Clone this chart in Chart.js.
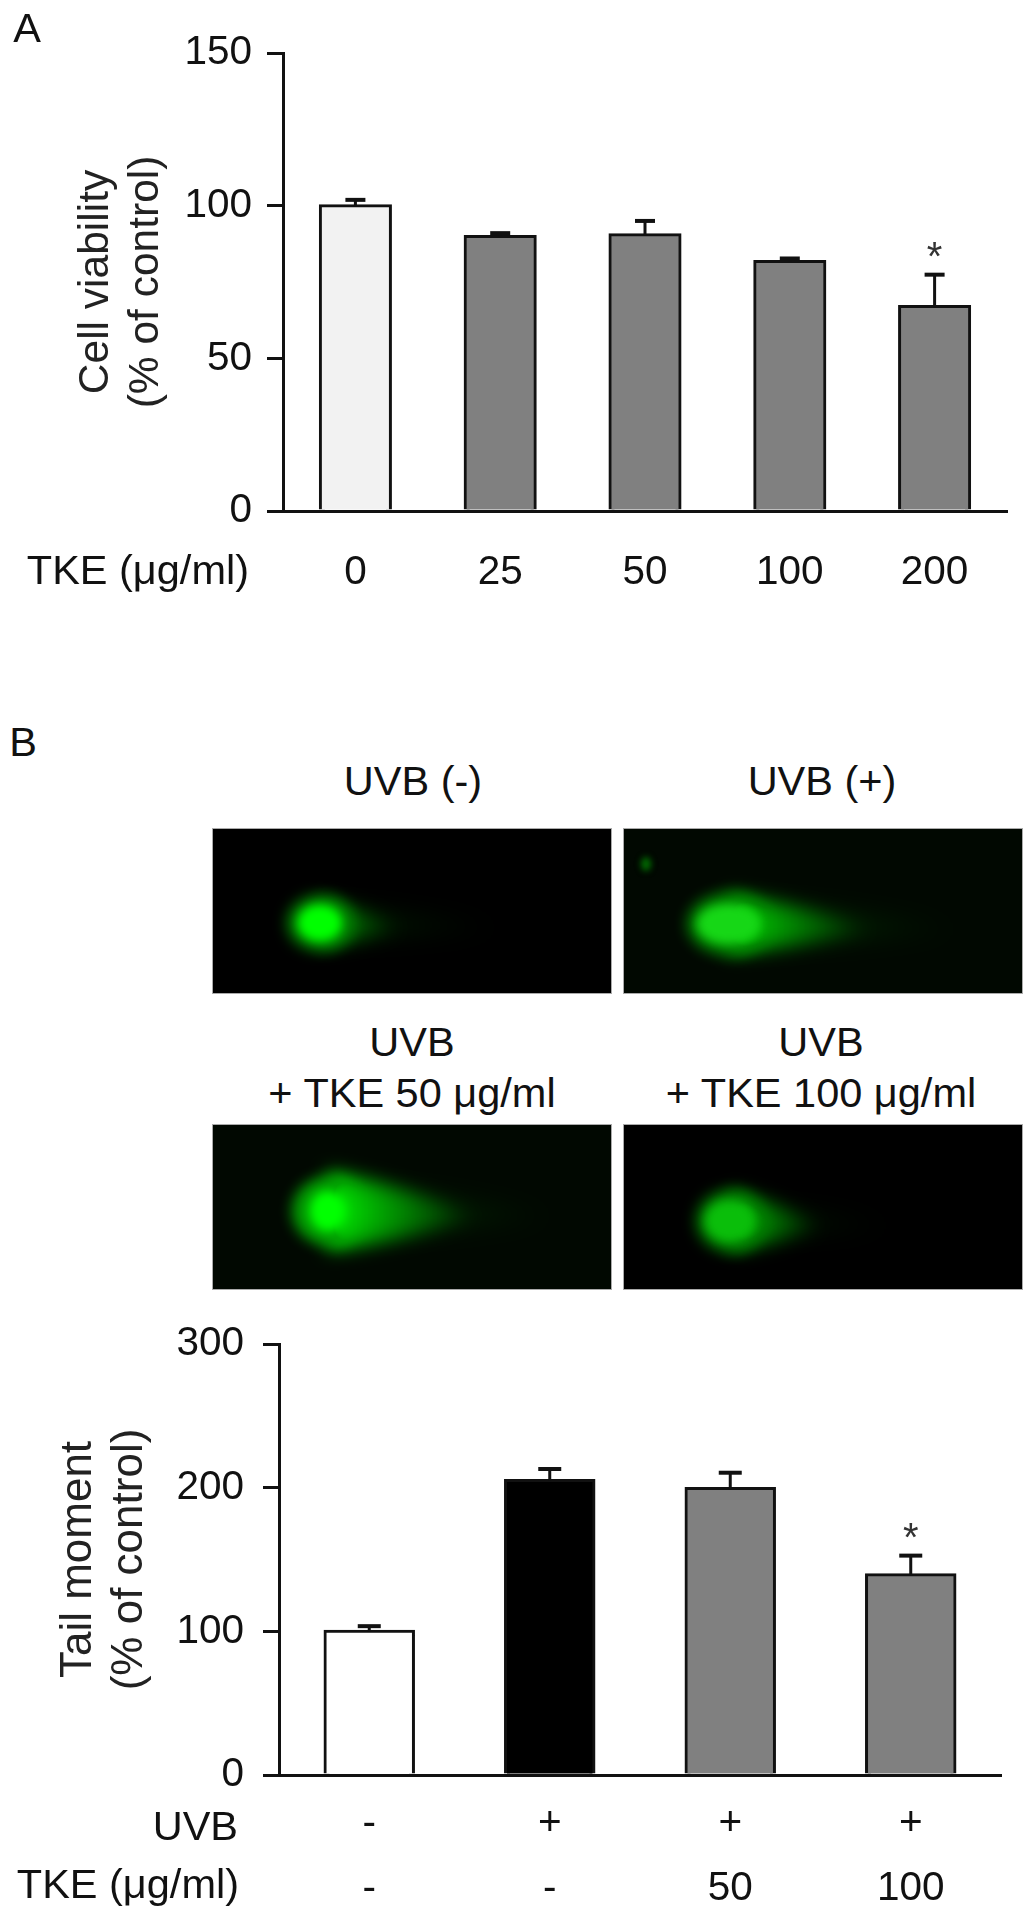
<!DOCTYPE html>
<html>
<head>
<meta charset="utf-8">
<title>TKE figure</title>
<script src="https://cdn.jsdelivr.net/npm/chart.js@4"></script>
<style>
    html, body { margin: 0; padding: 0; background: #fff; }
    #page { position: relative; width: 1036px; height: 1917px; overflow: hidden; font-family: "Liberation Sans", Arial, sans-serif; color: #111; }
    #page canvas { position: absolute; }
    .lbl { position: absolute; font-size: 41.5px; line-height: 1; white-space: nowrap; transform: translate(-50%, -50%); }
    .lbl.r { transform: translate(-100%, -50%); }
    .shot { outline: 1px solid #aaa; outline-offset: -1px; }
</style>
</head>
<body>
<div id="page">
    <canvas id="viability" width="1036" height="640" style="left:0;top:0"></canvas>
    <canvas id="tail" width="1036" height="617" style="left:0;top:1300px"></canvas>

    <div class="lbl" style="left:27px;top:28px">A</div>
    <div class="lbl" style="left:23px;top:742px">B</div>

    <div class="lbl r" style="left:249px;top:570px">TKE (μg/ml)</div>
    <div class="lbl r" style="left:238px;top:1826px">UVB</div>
    <div class="lbl r" style="left:239px;top:1884px">TKE (μg/ml)</div>

    <div class="lbl" style="left:413px;top:781px">UVB (-)</div>
    <div class="lbl" style="left:822px;top:781px">UVB (+)</div>
    <div class="lbl" style="left:412px;top:1042px">UVB</div>
    <div class="lbl" style="left:412px;top:1093px">+ TKE 50 μg/ml</div>
    <div class="lbl" style="left:821px;top:1042px">UVB</div>
    <div class="lbl" style="left:821px;top:1093px">+ TKE 100 μg/ml</div>

    <canvas class="shot" id="shot1" width="400" height="166" style="left:212px;top:828px"></canvas>
    <canvas class="shot" id="shot2" width="400" height="166" style="left:623px;top:828px"></canvas>
    <canvas class="shot" id="shot3" width="400" height="166" style="left:212px;top:1124px"></canvas>
    <canvas class="shot" id="shot4" width="400" height="166" style="left:623px;top:1124px"></canvas>
</div>

<script>
    // panel A
    const doses = ["0", "25", "50", "100", "200"];
    const viability = [100, 89.9, 90.5, 81.7, 67];
    const viabilityUpper = [101.9, 91, 95, 82.7, 77.4];
    const viabilityColors = ["#f2f2f2", "#808080", "#808080", "#808080", "#808080"];
    const viabilityStars = [false, false, false, false, true];
    const viabilityTicks = [0, 50, 100, 150];

    // panel B
    const tailGroups = [["-", "-"], ["+", "-"], ["+", "50"], ["+", "100"]];
    const tailMoment = [100, 205, 199.5, 139.4];
    const tailUpper = [103.6, 213, 210.4, 152.7];
    const tailColors = ["#ffffff", "#000000", "#808080", "#808080"];
    const tailStars = [false, false, false, true];
    const tailTicks = [0, 100, 200, 300];

    const ink = "#111";
    const tickFont = { family: "'Liberation Sans', Arial, sans-serif", size: 40.5 };

    // error bars are upper only, chart.js has none of its own
    const errorBars = {
        id: "errorBars",
        afterDatasetsDraw(chart, args, opts) {
            const ctx = chart.ctx;
            const y = chart.scales.y;
            ctx.save();
            chart.getDatasetMeta(0).data.forEach(function (bar, i) {
                const top = y.getPixelForValue(opts.upper[i]);
                ctx.strokeStyle = ink;
                ctx.lineWidth = 3;
                ctx.beginPath();
                ctx.moveTo(bar.x, bar.y);
                ctx.lineTo(bar.x, top);
                ctx.stroke();
                ctx.lineWidth = 4;
                ctx.beginPath();
                ctx.moveTo(bar.x - opts.cap / 2, top);
                ctx.lineTo(bar.x + opts.cap / 2, top);
                ctx.stroke();
                if (opts.stars[i]) {
                    ctx.fillStyle = "#333";
                    ctx.font = "40px 'Liberation Sans', Arial, sans-serif";
                    ctx.textAlign = "center";
                    ctx.textBaseline = "alphabetic";
                    ctx.fillText("*", bar.x, top - 5);
                }
            });
            ctx.restore();
        }
    };

    function barChart(id, cfg) {
        return new Chart(document.getElementById(id), {
            type: "bar",
            plugins: [errorBars],
            data: {
                labels: cfg.labels,
                datasets: [{
                    data: cfg.values,
                    backgroundColor: cfg.colors,
                    borderColor: ink,
                    borderWidth: 3,
                    inflateAmount: 1.5,
                    categoryPercentage: 1,
                    barPercentage: cfg.barPct
                }]
            },
            options: {
                responsive: false,
                animation: false,
                devicePixelRatio: 1,
                layout: { padding: { top: cfg.top, right: cfg.right, left: 0, bottom: 0 } },
                plugins: {
                    legend: { display: false },
                    tooltip: { enabled: false },
                    errorBars: { upper: cfg.upper, stars: cfg.stars, cap: cfg.cap }
                },
                scales: {
                    x: {
                        grid: { display: false, drawTicks: false },
                        border: { color: ink, width: 3 },
                        ticks: {
                            color: ink,
                            font: Object.assign({ lineHeight: cfg.xLine }, tickFont),
                            padding: cfg.xPad,
                            maxRotation: 0,
                            autoSkip: false
                        },
                        afterFit: function (s) { s.height = cfg.xHeight; }
                    },
                    y: {
                        min: 0,
                        max: cfg.max,
                        afterBuildTicks: function (s) { s.ticks = cfg.ticks.map(function (v) { return { value: v }; }); },
                        grid: { drawOnChartArea: false, color: ink, lineWidth: 3, tickLength: 16 },
                        border: { color: ink, width: 3 },
                        ticks: { color: ink, font: tickFont, padding: cfg.yPad },
                        title: {
                            display: true,
                            text: cfg.title,
                            color: "#222",
                            font: { family: tickFont.family, size: cfg.titleSize, lineHeight: cfg.titleLine },
                            padding: { top: cfg.titleTop, bottom: 0 }
                        },
                        afterFit: function (s) { s.width = cfg.yWidth; }
                    }
                }
            }
        });
    }

    barChart("viability", {
        labels: doses, values: viability, colors: viabilityColors,
        upper: viabilityUpper, stars: viabilityStars, ticks: viabilityTicks,
        max: 150, cap: 20, barPct: 0.484, top: 53, right: 29, yWidth: 283, xHeight: 129,
        xPad: 38, xLine: 1.2, yPad: 15,
        titleTop: 71, titleSize: 42.5, titleLine: 1.18, title: ["Cell viability", "(% of control)"]
    });

    barChart("tail", {
        labels: tailGroups, values: tailMoment, colors: tailColors,
        upper: tailUpper, stars: tailStars, ticks: tailTicks,
        max: 300, cap: 23, barPct: 0.49, top: 44, right: 35, yWidth: 279, xHeight: 142,
        xPad: 17, xLine: 1.59, yPad: 19,
        titleTop: 53, titleSize: 44, titleLine: 1.16, title: ["Tail moment", "(% of control)"]
    });

    // the comet assay micrographs, only painted to look alike
    const comets = [
        { id: "shot1", bg: "#000", x: 108, y: 95, coreRx: 22, coreRy: 18, core: "rgb(0,255,0)", glowRx: 33, glowRy: 28, glow: "rgb(0,130,0)",
          body: [190, 24, "rgb(0,120,0)"], far: [300, 14, "rgb(0,34,0)"] },
        { id: "shot2", bg: "#010801", x: 106, y: 96, coreRx: 32, coreRy: 20, core: "rgb(22,215,22)", glowRx: 42, glowRy: 31, glow: "rgb(0,130,0)",
          body: [250, 30, "rgb(0,165,0)"], far: [345, 20, "rgb(0,46,0)"], dot: [23, 36, 5, "rgb(0,110,0)"] },
        { id: "shot3", bg: "#010801", x: 116, y: 87, coreRx: 18, coreRy: 20, core: "rgb(0,255,0)", glowRx: 36, glowRy: 34, glow: "rgb(0,160,0)",
          body: [265, 40, "rgb(0,190,0)"], far: [350, 24, "rgb(0,44,0)"] },
        { id: "shot4", bg: "#000", x: 107, y: 97, coreRx: 25, coreRy: 21, core: "rgb(10,190,10)", glowRx: 34, glowRy: 31, glow: "rgb(0,120,0)",
          body: [200, 30, "rgb(0,170,0)"], far: [280, 12, "rgb(0,34,0)"] }
    ];

    function tailShape(ctx, c, spec) {
        const fade = ctx.createLinearGradient(c.x, 0, spec[0], 0);
        fade.addColorStop(0, spec[2]);
        fade.addColorStop(1, "#000");
        ctx.fillStyle = fade;
        ctx.beginPath();
        ctx.moveTo(c.x, c.y - spec[1]);
        ctx.quadraticCurveTo((c.x + spec[0]) / 2, c.y - spec[1] * 0.7, spec[0], c.y + 6);
        ctx.quadraticCurveTo((c.x + spec[0]) / 2, c.y + spec[1] * 0.8, c.x, c.y + spec[1]);
        ctx.closePath();
        ctx.fill();
    }

    function blob(ctx, x, y, rx, ry, color) {
        ctx.fillStyle = color;
        ctx.beginPath();
        ctx.ellipse(x, y, rx, ry, 0, 0, Math.PI * 2);
        ctx.fill();
    }

    comets.forEach(function (c) {
        const ctx = document.getElementById(c.id).getContext("2d");
        ctx.fillStyle = c.bg;
        ctx.fillRect(0, 0, 400, 166);
        ctx.globalCompositeOperation = "lighter";
        ctx.filter = "blur(12px)";
        tailShape(ctx, c, c.far);
        ctx.filter = "blur(9px)";
        tailShape(ctx, c, c.body);
        ctx.filter = "blur(7px)";
        ctx.globalCompositeOperation = "lighten";
        blob(ctx, c.x, c.y, c.glowRx, c.glowRy, c.glow);
        ctx.filter = "blur(5px)";
        blob(ctx, c.x, c.y, c.coreRx, c.coreRy, c.core);
        ctx.globalCompositeOperation = "source-over";
        if (c.dot) {
            ctx.filter = "blur(3px)";
            blob(ctx, c.dot[0], c.dot[1], c.dot[2], c.dot[2] * 1.4, c.dot[3]);
        }
        ctx.filter = "none";
    });
</script>
</body>
</html>
